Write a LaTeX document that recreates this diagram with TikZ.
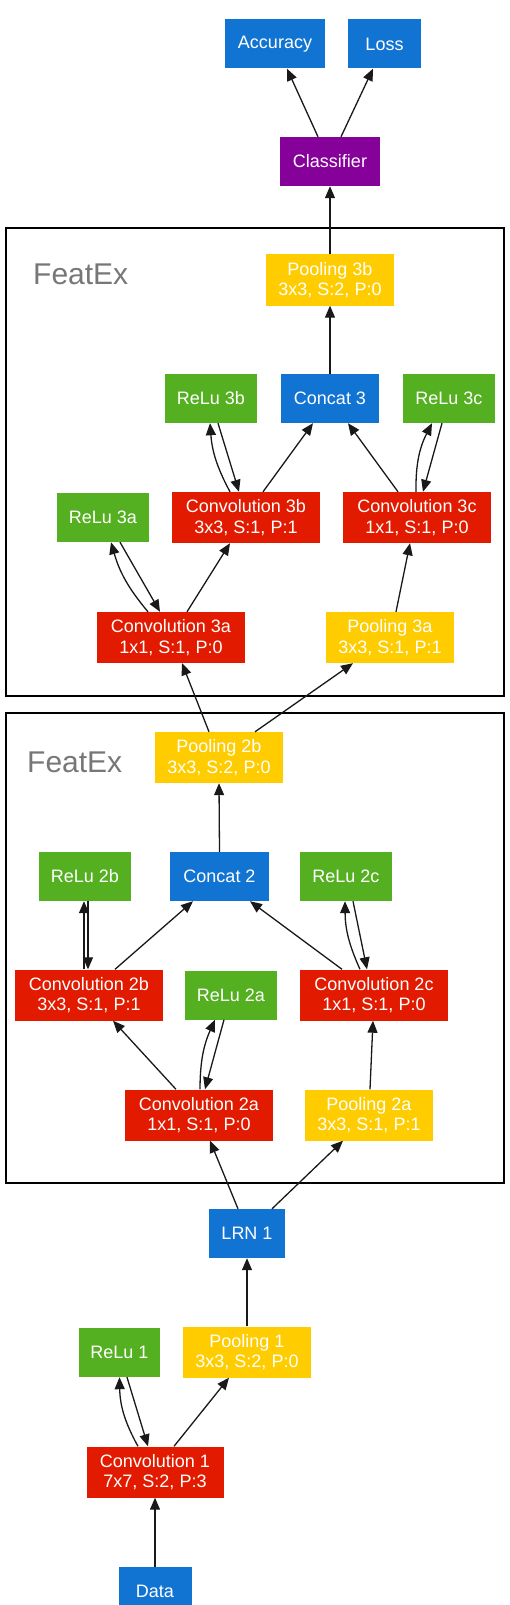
\documentclass[tikz,border=0pt]{standalone}
\usepackage{fontspec}
\setmainfont{Liberation Sans}
\usetikzlibrary{arrows.meta}
\definecolor{nblue}{HTML}{1174D2}
\definecolor{nred}{HTML}{E21B00}
\definecolor{ngreen}{HTML}{54B020}
\definecolor{nyellow}{HTML}{FFCC00}
\definecolor{npurple}{HTML}{86009A}
\definecolor{labelgray}{HTML}{777777}
\begin{document}
\begin{tikzpicture}[x=1pt,y=-1pt,
  box/.style={inner sep=0pt, align=center, text=white, font=\fontsize{18}{20.5}\selectfont},
  bluebox/.style={box, fill=nblue, minimum height=49pt},
  redbox/.style={box, fill=nred, minimum height=51pt, minimum width=148pt},
  greenbox/.style={box, fill=ngreen, minimum height=49pt, minimum width=92pt},
  yellowbox/.style={box, fill=nyellow, minimum height=51pt, minimum width=128pt},
  purplebox/.style={box, fill=npurple, minimum height=49pt},
  edge/.style={line width=1.3pt, draw=black!90, -{Triangle[length=12pt,width=10pt]}},
  cluster/.style={line width=2pt, draw=black},
  clabel/.style={inner sep=0pt, anchor=base west, text=labelgray, font=\fontsize{30}{34}\selectfont},
]
\useasboundingbox (0,0) rectangle (510,1605);
\fill[white] (0,0) rectangle (510,1605);

% clusters
\draw[cluster] (6,228) rectangle (504,696);
\draw[cluster] (6,713) rectangle (504,1183);
\node[clabel] (fx1) at (33,284) {FeatEx};
\node[clabel] (fx2) at (27,772) {FeatEx};

% nodes
\node[bluebox, minimum width=100pt] (acc) at (275,44) {Accuracy};
\node[bluebox, minimum width=73pt] (loss) at (384.5,44) {Loss};
\node[purplebox, minimum width=100pt] (cls) at (330,161.5) {Classifier};

\node[yellowbox] (p3b) at (330,280) {Pooling 3b\\3x3, S:2, P:0};
\node[greenbox] (r3b) at (211,398.5) {ReLu 3b};
\node[bluebox, minimum width=98pt] (cat3) at (330,398.5) {Concat 3};
\node[greenbox] (r3c) at (449,398.5) {ReLu 3c};
\node[greenbox] (r3a) at (103,517.5) {ReLu 3a};
\node[redbox] (c3b) at (246,517.5) {Convolution 3b\\3x3, S:1, P:1};
\node[redbox] (c3c) at (417,517.5) {Convolution 3c\\1x1, S:1, P:0};
\node[redbox] (c3a) at (171,637.5) {Convolution 3a\\1x1, S:1, P:0};
\node[yellowbox] (p3a) at (390,637.5) {Pooling 3a\\3x3, S:1, P:1};

\node[yellowbox] (p2b) at (219,757.5) {Pooling 2b\\3x3, S:2, P:0};
\node[greenbox] (r2b) at (85,876.5) {ReLu 2b};
\node[bluebox, minimum width=99pt] (cat2) at (219.5,876.5) {Concat 2};
\node[greenbox] (r2c) at (346,876.5) {ReLu 2c};
\node[redbox] (c2b) at (89,995) {Convolution 2b\\3x3, S:1, P:1};
\node[greenbox] (r2a) at (231,995) {ReLu 2a};
\node[redbox] (c2c) at (374,995) {Convolution 2c\\1x1, S:1, P:0};
\node[redbox] (c2a) at (199,1115) {Convolution 2a\\1x1, S:1, P:0};
\node[yellowbox] (p2a) at (369,1115) {Pooling 2a\\3x3, S:1, P:1};

\node[bluebox, minimum width=76pt] (lrn) at (247,1233.5) {LRN 1};
\node[greenbox, minimum width=81pt] (r1) at (119.5,1352.5) {ReLu 1};
\node[yellowbox] (p1) at (247,1352) {Pooling 1\\3x3, S:2, P:0};
\node[redbox, minimum width=137pt] (c1) at (155,1472) {Convolution 1\\7x7, S:2, P:3};
\node[bluebox, minimum width=73pt] (data) at (155,1591.5) {Data};

% edges
\draw[edge] (data.north) -- (c1.south);
\draw[edge] ([xshift=-17pt]c1.north) to[bend left=14] (r1.south);
\draw[edge] ([xshift=7.5pt]r1.south) -- ([xshift=-7pt]c1.north);
\draw[edge] ([xshift=19pt]c1.north) -- ([xshift=-18pt]p1.south);
\draw[edge] (p1.north) -- (lrn.south);
\draw[edge] ([xshift=-9pt]lrn.north) -- ([xshift=11pt]c2a.south);
\draw[edge] ([xshift=25pt]lrn.north) -- ([xshift=-26pt]p2a.south);

\draw[edge] ([xshift=-23pt]c2a.north) -- ([xshift=24pt]c2b.south);
\draw[edge] ([xshift=1pt]c2a.north) to[bend left=12] ([xshift=-16pt]r2a.south);
\draw[edge] ([xshift=-7pt]r2a.south) -- ([xshift=6pt]c2a.north);
\draw[edge] ([xshift=1pt]p2a.north) -- ([xshift=-1pt]c2c.south);
\draw[edge] ([xshift=26pt]c2b.north) -- ([xshift=-26.5pt]cat2.south);
\draw[edge] ([xshift=-5pt]c2b.north) -- ([xshift=-1pt]r2b.south);
\draw[edge] ([xshift=3pt]r2b.south) -- ([xshift=-1pt]c2b.north);
\draw[edge] ([xshift=-32pt]c2c.north) -- ([xshift=30.5pt]cat2.south);
\draw[edge] ([xshift=-14pt]c2c.north) to[bend left=12] ([xshift=-1pt]r2c.south);
\draw[edge] ([xshift=7pt]r2c.south) -- ([xshift=-7pt]c2c.north);
\draw[edge] (cat2.north) -- (p2b.south);

\draw[edge] ([xshift=-10pt]p2b.north) -- ([xshift=11pt]c3a.south);
\draw[edge] ([xshift=36pt]p2b.north) -- ([xshift=-37pt]p3a.south);
\draw[edge] ([xshift=-23pt]c3a.north) to[bend left=12] ([xshift=8pt]r3a.south);
\draw[edge] ([xshift=17pt]r3a.south) -- ([xshift=-11pt]c3a.north);
\draw[edge] ([xshift=16pt]c3a.north) -- ([xshift=-16pt]c3b.south);
\draw[edge] ([xshift=6pt]p3a.north) -- ([xshift=-7pt]c3c.south);
\draw[edge] ([xshift=-16pt]c3b.north) to[bend left=12] ([xshift=-1pt]r3b.south);
\draw[edge] ([xshift=7pt]r3b.south) -- ([xshift=-7pt]c3b.north);
\draw[edge] ([xshift=17pt]c3b.north) -- ([xshift=-17pt]cat3.south);
\draw[edge] ([xshift=-19pt]c3c.north) -- ([xshift=18pt]cat3.south);
\draw[edge] ([xshift=-1pt]c3c.north) to[bend left=14] ([xshift=-17pt]r3c.south);
\draw[edge] ([xshift=-7pt]r3c.south) -- ([xshift=6pt]c3c.north);
\draw[edge] (cat3.north) -- (p3b.south);

\draw[edge] (p3b.north) -- (cls.south);
\draw[edge] ([xshift=-12pt]cls.north) -- ([xshift=12pt]acc.south);
\draw[edge] ([xshift=11pt]cls.north) -- ([xshift=-11.5pt]loss.south);
\end{tikzpicture}
\end{document}
